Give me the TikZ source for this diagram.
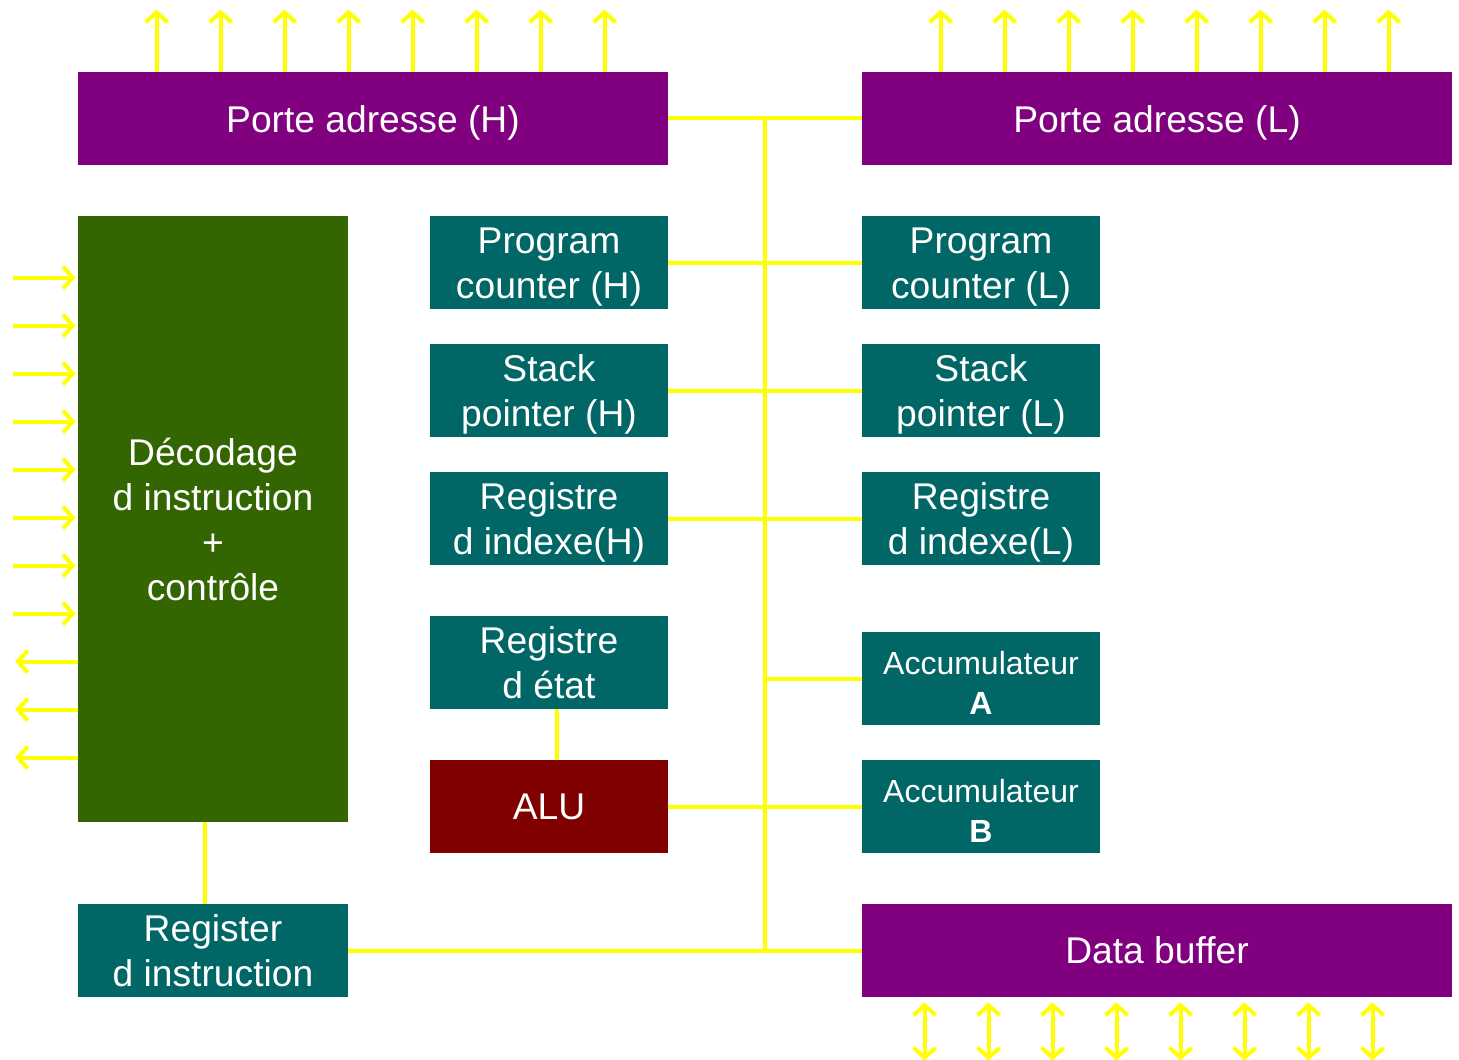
\documentclass[tikz,border=0pt]{standalone}
\usepackage{fontspec}
\setmainfont{Liberation Sans}
\usetikzlibrary{arrows.meta}
\definecolor{bus}{HTML}{FFFF00}
\definecolor{port}{HTML}{800080}
\definecolor{teal}{HTML}{006666}
\definecolor{ctrl}{HTML}{336600}
\definecolor{alu}{HTML}{800000}
\newcommand\lift[1][17.6pt]{\rule{0pt}{#1}}

\begin{document}
\begin{tikzpicture}[x=0.5pt,y=-0.5pt,
 blk/.style={rectangle,draw=none,inner sep=0pt,text=white,align=center,
 font=\fontsize{18.6}{22.5}\selectfont},
 wide/.style={blk,fill=port,minimum width=295pt,minimum height=46.5pt},
 reg/.style={blk,fill=teal,minimum width=119pt,minimum height=46.5pt},
 acc/.style={reg,font=\fontsize{16}{20}\selectfont},
 wire/.style={draw=bus,line width=2pt},
 sig/.style={wire,-{Straight Barb[length=5pt,width=11pt,line width=2pt]}},
 sig2/.style={wire,{Straight Barb[length=5pt,width=11pt,line width=2pt]}-{Straight Barb[length=5pt,width=11pt,line width=2pt]}}]
\useasboundingbox (0,0) rectangle (1459,1059);
% ports and buffer
\node[wide] (pah) at (373,118.5) {\lift Porte adresse (H)};
\node[wide] (pal) at (1157,118.5) {\lift Porte adresse (L)};
\node[wide] (db) at (1157,950.5) {Data buffer};
% control
\node[blk,fill=ctrl,minimum width=135pt,minimum height=303pt] (dec) at (213,519)
 {Décodage\\d instruction\\+\\contrôle};
\node[reg,minimum width=135pt] (ri) at (213,950.5) {Register\\d instruction};
% registers
\node[reg] (pch) at (549,262.5) {\lift Program\\counter (H)};
\node[reg] (pcl) at (981,262.5) {\lift Program\\counter (L)};
\node[reg] (sph) at (549,390.5) {\lift Stack\\pointer (H)};
\node[reg] (spl) at (981,390.5) {\lift Stack\\pointer (L)};
\node[reg] (ixh) at (549,518.5) {\lift Registre\\d indexe(H)};
\node[reg] (ixl) at (981,518.5) {\lift Registre\\d indexe(L)};
\node[reg] (st) at (549,662.5) {Registre\\d état};
\node[reg,fill=alu] (alu) at (549,806.5) {ALU};
\node[acc] (acca) at (981,678.5) {\lift[15.7pt]Accumulateur\\\textbf{A}};
\node[acc] (accb) at (981,806.5) {\lift[15.7pt]Accumulateur\\\textbf{B}};
% internal bus
\coordinate (bt) at (765,118.5);
\coordinate (bb) at (765,950.5);
\draw[wire] (bt)--(bb);
\foreach \u/\v in {pah/pal,pch/pcl,sph/spl,ixh/ixl,alu/accb,ri/db}{\draw[wire] (\u.east)--(\v.west);}
\draw[wire] (bt|-acca.west)--(acca.west);
\draw[wire] (st.south-|557,0)--(alu.north-|557,0);
\draw[wire] (dec.south-|205,0)--(ri.north-|205,0);
% external lines
\foreach \i in {0,...,7}{
 \draw[sig] ([xshift=39.5pt+\i*32pt]pah.north west)--++(0,-62);
 \draw[sig] ([xshift=39.5pt+\i*32pt]pal.north west)--++(0,-62);
 \draw[sig2] ([xshift=31.5pt+\i*32pt,yshift=-2.5pt]db.south west)--++(0,58);
 \draw[sig] ([yshift=-31pt-\i*24pt]dec.north west-|13,0)--([yshift=-31pt-\i*24pt,xshift=-1pt]dec.north west);
}
\foreach \i in {0,1,2}{
 \draw[sig] ([yshift=-223pt-\i*24pt]dec.north west)--([yshift=-223pt-\i*24pt]dec.north west-|15,0);
}
\end{tikzpicture}
\end{document}
